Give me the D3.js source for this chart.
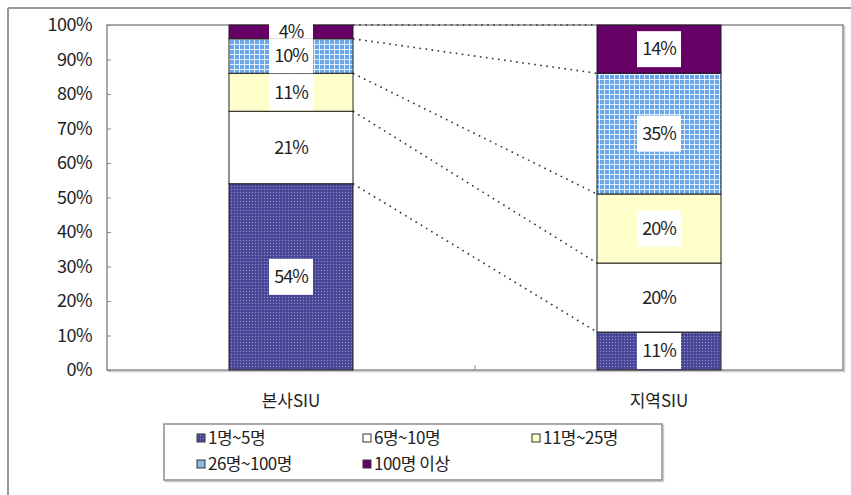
<!DOCTYPE html>
<html>
<head>
<meta charset="utf-8">
<script src="https://cdn.jsdelivr.net/npm/d3@7"></script>
<style>
  body { margin: 0; background: #fff; }
  text { font-family: "Noto Sans CJK KR", "DejaVu Sans", sans-serif; fill: #222; }
</style>
</head>
<body>
<div id="chart"></div>
<script>
// data
var categories = ["본사SIU", "지역SIU"];
var series = ["1명~5명", "6명~10명", "11명~25명", "26명~100명", "100명 이상"];
var hqValues = [54, 21, 11, 10, 4];
var regionValues = [11, 20, 20, 35, 14];
var yTicks = [0, 10, 20, 30, 40, 50, 60, 70, 80, 90, 100];

var W = 851, H = 495;
var plot = {left: 107, right: 843, top: 25, bottom: 370};

var svg = d3.select("#chart").append("svg")
    .attr("width", W)
    .attr("height", H);

// patterns
var defs = svg.append("defs");
var dots = defs.append("pattern")
    .attr("id", "dots")
    .attr("patternUnits", "userSpaceOnUse")
    .attr("width", 3).attr("height", 3);
dots.append("rect").attr("width", 3).attr("height", 3).attr("fill", "#4d4d9c");
dots.append("rect").attr("x", 0).attr("y", 0).attr("width", 1).attr("height", 1).attr("fill", "#8a8ad0");
dots.append("rect").attr("x", 1.5).attr("y", 1.5).attr("width", 1).attr("height", 1).attr("fill", "#2c2c70");

var grid = defs.append("pattern")
    .attr("id", "grid")
    .attr("patternUnits", "userSpaceOnUse")
    .attr("width", 5).attr("height", 5);
grid.append("rect").attr("width", 5).attr("height", 5).attr("fill", "#6aa6ea");
grid.append("rect").attr("x", 4).attr("width", 1).attr("height", 5).attr("fill", "#e6f0fc");
grid.append("rect").attr("y", 4).attr("width", 5).attr("height", 1).attr("fill", "#e6f0fc");

var fills = ["url(#dots)", "#ffffff", "#ffffcc", "url(#grid)", "#660066"];
var legendFills = ["url(#dots)", "#ffffff", "#ffffcc", "#8abcf0", "#660066"];

// outer frame (top and left edge visible)
svg.append("line").attr("x1", 8).attr("y1", 8).attr("x2", W).attr("y2", 8)
    .attr("stroke", "#999").attr("stroke-width", 2);
svg.append("line").attr("x1", 8).attr("y1", 8).attr("x2", 8).attr("y2", H)
    .attr("stroke", "#999").attr("stroke-width", 2);

// scales
var x = d3.scaleBand()
    .domain(categories)
    .range([plot.left, plot.right])
    .paddingInner(0.663)
    .paddingOuter(0.3315);
var xStep = (plot.right - plot.left) / categories.length;

var y = d3.scaleLinear()
    .domain([0, 100])
    .range([plot.bottom, plot.top]);

// plot area box
svg.append("rect")
    .attr("x", plot.left + 1.5).attr("y", plot.top + 1.5)
    .attr("width", plot.right - plot.left).attr("height", plot.bottom - plot.top)
    .attr("fill", "none").attr("stroke", "#ccc").attr("stroke-width", 1.5);
svg.append("rect")
    .attr("x", plot.left).attr("y", plot.top)
    .attr("width", plot.right - plot.left).attr("height", plot.bottom - plot.top)
    .attr("fill", "#fff").attr("stroke", "#8c8c8c").attr("stroke-width", 1.5);

// y axis
var yAxis = d3.axisLeft(y)
    .tickValues(yTicks)
    .tickSizeInner(-4)
    .tickSizeOuter(0)
    .tickPadding(15)
    .tickFormat(function(d){ return d + "%"; });

var gy = svg.append("g")
    .attr("transform", "translate(" + plot.left + ",0)")
    .call(yAxis);
gy.select(".domain").remove();
gy.selectAll("line").attr("stroke", "#8c8c8c");
gy.selectAll("text")
    .attr("font-size", "18px")
    .attr("letter-spacing", "-0.5px")
    .style("font-family", "'Noto Sans CJK KR', sans-serif")
    .attr("fill", "#333");

// x axis category ticks (between categories)
svg.selectAll("line.xtick")
    .data(d3.range(1, categories.length))
    .enter().append("line")
    .attr("class", "xtick")
    .attr("x1", function(d){ return plot.left + d * xStep; })
    .attr("x2", function(d){ return plot.left + d * xStep; })
    .attr("y1", plot.bottom)
    .attr("y2", plot.bottom - 5)
    .attr("stroke", "#8c8c8c");

// category labels
svg.selectAll("text.cat")
    .data(categories)
    .enter().append("text")
    .attr("class", "cat")
    .attr("x", function(d){ return x(d) + x.bandwidth() / 2; })
    .attr("y", 401)
    .attr("dy", "0.35em")
    .attr("text-anchor", "middle")
    .attr("font-size", "17px")
    .attr("fill", "#333")
    .text(function(d){ return d; });

// stacked data
var allValues = [hqValues, regionValues];
var stacks = categories.map(function(c, i){
    var cum = 0;
    return allValues[i].map(function(v, j){
        var seg = {cat: c, series: j, v: v, y0: cum, y1: cum + v};
        cum += v;
        return seg;
    });
});

// connector lines (dotted) between cumulative boundaries
var hqCum = d3.cumsum(hqValues);
var regionCum = d3.cumsum(regionValues);
var connectors = d3.range(hqCum.length).map(function(i){
    return {a: hqCum[i], b: regionCum[i]};
});
svg.selectAll("line.conn")
    .data(connectors)
    .enter().append("line")
    .attr("class", "conn")
    .attr("x1", x(categories[0]) + x.bandwidth())
    .attr("x2", x(categories[1]))
    .attr("y1", function(d){ return y(d.a); })
    .attr("y2", function(d){ return y(d.b); })
    .attr("stroke", "#333")
    .attr("stroke-width", 1.6)
    .attr("stroke-dasharray", "1.6,4.5");

// bars
var segs = d3.merge(stacks);
svg.selectAll("rect.seg")
    .data(segs)
    .enter().append("rect")
    .attr("class", "seg")
    .attr("x", function(d){ return x(d.cat); })
    .attr("y", function(d){ return y(d.y1); })
    .attr("width", x.bandwidth())
    .attr("height", function(d){ return y(d.y0) - y(d.y1); })
    .attr("fill", function(d){ return fills[d.series]; })
    .attr("stroke", "#222")
    .attr("stroke-width", 1);

// value labels with white boxes
function boxTop(d){
    var h = y(d.y0) - y(d.y1);
    if (h >= 36) return -18;
    if (d.y1 == 100) return -18;   // short top segment: box pokes above the bar
    return -h / 2;
}
function boxHeight(d){
    var h = y(d.y0) - y(d.y1);
    if (h >= 36) return 36;
    if (d.y1 == 100) return 18 + h / 2;
    return h;
}
var labels = svg.selectAll("g.lab")
    .data(segs)
    .enter().append("g")
    .attr("class", "lab")
    .attr("transform", function(d){
        return "translate(" + (x(d.cat) + x.bandwidth() / 2) + "," + y((d.y0 + d.y1) / 2) + ")";
    });
labels.append("rect")
    .attr("x", -22)
    .attr("width", 44)
    .attr("y", boxTop)
    .attr("height", boxHeight)
    .attr("fill", "#fff");
labels.append("text")
    .attr("text-anchor", "middle")
    .attr("dy", "0.35em")
    .attr("font-size", "18px")
    .attr("letter-spacing", "-1px")
    .attr("fill", "#333")
    .text(function(d){ return d.v + "%"; });

// legend
var legend = svg.append("g").attr("transform", "translate(164,424)");
legend.append("rect")
    .attr("x", 1.5).attr("y", 1.5)
    .attr("width", 498).attr("height", 56)
    .attr("fill", "none").attr("stroke", "#ccc").attr("stroke-width", 1.5);
legend.append("rect")
    .attr("width", 498).attr("height", 56)
    .attr("fill", "#fff").attr("stroke", "#8c8c8c").attr("stroke-width", 1.5);

var legendX = [33, 199, 368];
var items = legend.selectAll("g.item")
    .data(series)
    .enter().append("g")
    .attr("class", "item")
    .attr("transform", function(d, i){
        return "translate(" + legendX[i % 3] + "," + (i < 3 ? 14 : 40) + ")";
    });
items.append("rect")
    .attr("x", 0).attr("y", -4)
    .attr("width", 8).attr("height", 8)
    .attr("fill", function(d, i){ return legendFills[i]; })
    .attr("stroke", "#333");
items.append("text")
    .attr("x", 11)
    .attr("dy", "0.35em")
    .attr("font-size", "17px")
    .attr("letter-spacing", "-0.5px")
    .attr("fill", "#333")
    .text(function(d){ return d; });
</script>
</body>
</html>
